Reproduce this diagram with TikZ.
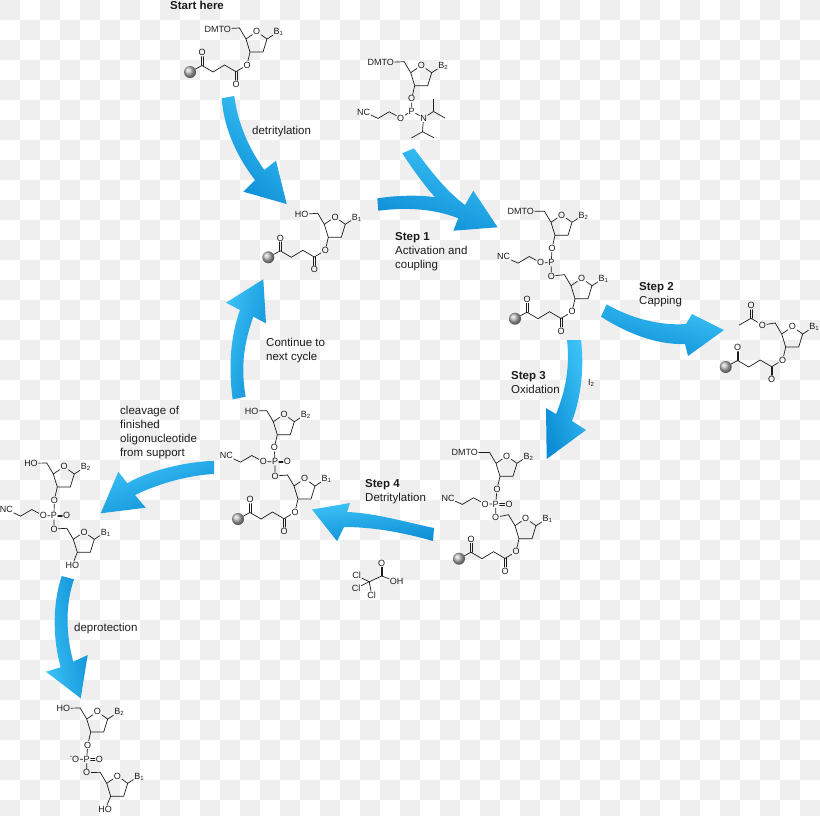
\documentclass[tikz,border=0pt]{standalone}
\usepackage{fontspec}
\setmainfont{Liberation Sans}
\definecolor{ink}{HTML}{1C1C1C}
\definecolor{tile}{HTML}{EFEFEF}
\definecolor{flowlight}{HTML}{3CC2F6}
\definecolor{flowdark}{HTML}{0C8DD5}
\newcommand\atomfont{\fontsize{9}{10}\selectfont}
\newcommand\labelfont{\fontsize{11.5}{14}\selectfont}
% double bonds as two offset strokes: vertical and horizontal
\newcommand\dblv[2]{%
  \draw[bond, transform canvas={xshift=-0.85pt}] (#1)--(#2);
  \draw[bond, transform canvas={xshift=0.85pt}] (#1)--(#2);}
\newcommand\dblh[2]{%
  \draw[bond, transform canvas={yshift=-0.85pt}] (#1)--(#2);
  \draw[bond, transform canvas={yshift=0.85pt}] (#1)--(#2);}
\tikzset{
  x=1pt, y=-1pt,
  atom/.style={inner sep=0.7pt, font=\atomfont, text=ink, text height=6.4pt, text depth=0pt},
  bond/.style={draw=ink, line width=0.7pt, line cap=round},
  caption/.style={font=\labelfont, text=ink, inner sep=0pt, anchor=north west, align=left},
  % deoxyribose ring: origin at C4', args are base number, 3' label, 3' label offset
  pics/sugar/.style n args={3}{code={
    \coordinate (-c4) at (0,0);
    \coordinate (-c1) at (21,0);
    \coordinate (-c2) at (17,13);
    \coordinate (-c3) at (4,13);
    \coordinate (-c5) at (-6.5,-11);
    \node[atom] (-o) at (10.7,-7.3) {O};
    \node[atom] (-b) at (32.5,-7.5) {B\textsubscript{#1}};
    \node[atom] (-o3) at (1+#3,26) {#2};
    \draw[bond] (-c4)--(-o)--(-c1)--(-c2)--(-c3)--(-c4) (-c4)--(-c5) (-c1)--(-b) (-c3)--(-o3);
  }},
  % succinyl linker and solid support: origin at the 3' oxygen
  pics/bead/.style={code={
    \coordinate (-co) at (-11,6.7);
    \node[atom] (-oa) at (-11,19.3) {O};
    \coordinate (-m1) at (-22.5,0);
    \coordinate (-m2) at (-34,7);
    \coordinate (-cb) at (-45,0.5);
    \node[atom] (-ob) at (-45,-12.5) {O};
    \node[circle, minimum size=12pt, inner sep=0pt, ball color=gray!55!white] (-ball) at (-57,7) {};
    \draw[bond] (-co)--(-m1)--(-m2)--(-cb)--(-ball);
    \dblv{-co}{-oa}
    \dblv{-cb}{-ob}
  }},
  % cyanoethyl arm: origin at the ester oxygen
  pics/cyano/.style={code={
    \node[atom] (-o) at (0,0) {O};
    \coordinate (-a) at (-11.5,-6.2);
    \coordinate (-d) at (-22.7,0.4);
    \node[atom] (-nc) at (-37,-6.2) {NC};
    \draw[bond] (-o)--(-a)--(-d)--(-nc);
  }},
}
\begin{document}
\begin{tikzpicture}
\useasboundingbox (0,0) rectangle (820,815);

% tiled backdrop
\begin{scope}
\clip (0,0) rectangle (820,815);
\foreach \i in {0,...,40}{
  \foreach \j in {0,...,40}{
    \pgfmathtruncatemacro\tilepar{mod(\i+\j,2)}
    \ifnum\tilepar=0
      \fill[tile] (20*\i,20*\j) rectangle (20*\i+20,20*\j+20);
    \fi
  }
}
\end{scope}

% reaction flow arrows
\shade[left color=flowlight, right color=flowdark, shading angle=-40]
  (221.7,98.3) .. controls (224,130) and (238,158) .. (255,180)
  -- (243.3,191.7) -- (286.7,204) -- (276,160.7) -- (264.3,170)
  .. controls (250,150) and (238,125) .. (234.3,96) -- cycle;
\shade[left color=flowlight, right color=flowdark, shading angle=-20]
  (377.3,198.3) .. controls (400,195) and (420,195) .. (435,197.3)
  .. controls (420,180) and (410,165) .. (402.3,153.3)
  -- (414,148.3) .. controls (430,170) and (445,190) .. (465,205)
  -- (473.3,190.7) -- (497.7,227.3) -- (453.3,230.7) -- (458.3,218.3)
  .. controls (430,207) and (400,208) .. (378.3,210.7) -- cycle;
\shade[left color=flowlight, right color=flowdark, shading angle=-15]
  (606.7,304.3) .. controls (630,318) and (660,326) .. (686,324)
  -- (692,314) -- (724,330) -- (688,356) -- (685,344)
  .. controls (655,345) and (625,332) .. (601,316.7) -- cycle;
\shade[left color=flowlight, right color=flowdark, shading angle=-70]
  (567,340) .. controls (570,365) and (566,390) .. (556,414)
  -- (546,408) -- (546.7,459) -- (586,430) -- (572,421)
  .. controls (582,395) and (584,365) .. (581,340) -- cycle;
\shade[left color=flowdark, right color=flowlight, shading angle=185]
  (434,528) .. controls (405,522) and (375,513) .. (347,512)
  -- (350,503) -- (312,509.5) -- (337,541) -- (344,527)
  .. controls (375,527) and (405,533) .. (433,541) -- cycle;
\shade[left color=flowlight, right color=flowdark, shading angle=75]
  (232.7,399.3) .. controls (228,365) and (231,335) .. (240,310)
  -- (226,302.7) -- (263.3,279.3) -- (266,323.3) -- (253.3,316.7)
  .. controls (245,340) and (240,365) .. (245.7,396.7) -- cycle;
\shade[left color=flowdark, right color=flowlight, shading angle=200]
  (214,460.7) .. controls (185,462) and (150,470) .. (127.3,483.3)
  -- (118.3,471.7) -- (100.7,513.3) -- (145.7,507.7) -- (135,495)
  .. controls (160,483) and (190,475) .. (214,474) -- cycle;
\shade[left color=flowdark, right color=flowlight, shading angle=-80]
  (61.7,576) .. controls (52,605) and (53,640) .. (60.7,667.3)
  -- (46,671.7) -- (80.7,698.3) -- (87.7,655) -- (73.3,661.7)
  .. controls (66,635) and (65,605) .. (74,579.3) -- cycle;

% starting nucleoside on support
\pic (A) at (246,39) {sugar={1}{O}{0}};
\node[atom] (Acap) at (217.7,29) {DMTO};
\draw[bond] (Acap)--(A-c5);
\pic (Ab) at (A-o3) {bead};
\draw[bond] (A-o3)--(Ab-co);

% phosphoramidite monomer
\pic (B) at (410.7,72.7) {sugar={2}{O}{0}};
\node[atom] (Bcap) at (380.7,62.7) {DMTO};
\draw[bond] (Bcap)--(B-c5);
\node[atom] (Bp) at (411.7,111) {P};
\pic (Bc) at (400.7,118) {cyano};
\node[atom] (Bn) at (423.5,118) {N};
\coordinate (Bi1) at (433.5,111.5);
\coordinate (Bi1a) at (433.5,99.3);
\coordinate (Bi1b) at (445,118);
\coordinate (Bi2) at (422.5,131.7);
\coordinate (Bi2a) at (411.7,137.8);
\coordinate (Bi2b) at (434,137.8);
\draw[bond] (B-o3)--(Bp)--(Bc-o) (Bp)--(Bn)--(Bi1)--(Bi1a) (Bi1)--(Bi1b)
  (Bn)--(Bi2)--(Bi2a) (Bi2)--(Bi2b);

% detritylated nucleoside
\pic (I) at (324.3,224.3) {sugar={1}{O}{0}};
\node[atom] (Icap) at (301.7,214.3) {HO};
\draw[bond] (Icap)--(I-c5);
\pic (Ib) at (I-o3) {bead};
\draw[bond] (I-o3)--(Ib-co);

% phosphite triester
\pic (C) at (551,222.3) {sugar={2}{O}{0}};
\node[atom] (Ccap) at (520.7,211) {DMTO};
\draw[bond] (Ccap)--(C-c5);
\node[atom] (Cp) at (551.3,262.7) {P};
\pic (Cc) at (540.7,262.7) {cyano};
\node[atom] (Cd) at (551.3,276) {O};
\pic (C2) at (571,285.7) {sugar={1}{O}{0}};
\pic (Cb) at (C2-o3) {bead};
\draw[bond] (C-o3)--(Cp)--(Cc-o) (Cp)--(Cd)--(C2-c5) (C2-o3)--(Cb-co);

% capped failure sequence
\pic (D) at (781.7,334) {sugar={1}{O}{0}};
\node[atom] (De) at (762.3,325) {O};
\coordinate (Dc) at (751,318.3);
\node[atom] (Do) at (751,305.7) {O};
\coordinate (Dm) at (739.3,325);
\pic (Db) at (D-o3) {bead};
\draw[bond] (D-c5)--(De)--(Dc)--(Dm) (D-o3)--(Db-co);
\dblv{Dc}{Do}

% phosphate triester, tritylated
\pic (E) at (496,463.3) {sugar={2}{O}{0}};
\node[atom] (Ecap) at (464.7,452.3) {DMTO};
\draw[bond] (Ecap)--(E-c5);
\node[atom] (Ep) at (495.7,504) {P};
\pic (Ec) at (485,504) {cyano};
\node[atom] (Eo) at (509,504) {O};
\node[atom] (Ed) at (495.7,517.3) {O};
\pic (E2) at (515,525.7) {sugar={1}{O}{0}};
\pic (Eb) at (E2-o3) {bead};
\draw[bond] (E-o3)--(Ep)--(Ec-o) (Ep)--(Ed)--(E2-c5) (E2-o3)--(Eb-co);
\dblh{Ep}{Eo}

% phosphate triester, free 5' hydroxyl
\pic (F) at (273.3,421.7) {sugar={2}{O}{0}};
\node[atom] (Fcap) at (251.7,411) {HO};
\draw[bond] (Fcap)--(F-c5);
\node[atom] (Fp) at (275,461.7) {P};
\pic (Fc) at (263.3,461.7) {cyano};
\node[atom] (Fo) at (287.3,461.7) {O};
\node[atom] (Fd) at (275,476) {O};
\pic (F2) at (294,486) {sugar={1}{O}{0}};
\pic (Fb) at (F2-o3) {bead};
\draw[bond] (F-o3)--(Fp)--(Fc-o) (Fp)--(Fd)--(F2-c5) (F2-o3)--(Fb-co);
\dblh{Fp}{Fo}

% cleaved dinucleotide, still protected
\pic (G) at (53.3,474) {sugar={2}{O}{0}};
\node[atom] (Gcap) at (31,463.3) {HO};
\draw[bond] (Gcap)--(G-c5);
\node[atom] (Gp) at (54,515.7) {P};
\pic (Gc) at (43.3,515.7) {cyano};
\node[atom] (Go) at (66.7,515.7) {O};
\node[atom] (Gd) at (54,529) {O};
\pic (G2) at (73.3,539.3) {sugar={1}{HO}{-2}};
\draw[bond] (G-o3)--(Gp)--(Gc-o) (Gp)--(Gd)--(G2-c5);
\dblh{Gp}{Go}

% deprotected dinucleotide
\pic (H) at (86.7,719) {sugar={2}{O}{0}};
\node[atom] (Hcap) at (63.3,708.3) {HO};
\draw[bond] (Hcap)--(H-c5);
\node[atom] (Hp) at (86.7,759.3) {P};
\node[atom] (Hm) at (75.7,759.3) {O};
\node[atom, font=\fontsize{7}{8}\selectfont] (Hq) at (71,755.5) {-};
\node[atom] (Ho) at (99.3,759.3) {O};
\node[atom] (Hd) at (86.7,772.7) {O};
\pic (H2) at (106.7,783.3) {sugar={1}{HO}{-2.5}};
\draw[bond] (H-o3)--(Hp)--(Hm) (Hp)--(Hd)--(H2-c5);
\dblh{Hp}{Ho}

% trichloroacetic acid
\coordinate (Jc) at (381.7,576);
\node[atom] (Jo) at (381.7,563) {O};
\node[atom] (Joh) at (396.7,581.7) {OH};
\coordinate (Jt) at (369.3,581.7);
\node[atom] (Jl1) at (356.7,575.7) {Cl};
\node[atom] (Jl2) at (356,588.3) {Cl};
\node[atom] (Jl3) at (371.7,595) {Cl};
\draw[bond] (Jc)--(Joh) (Jc)--(Jt)--(Jl1) (Jt)--(Jl2) (Jt)--(Jl3);
\dblv{Jc}{Jo}

% captions
\node[caption] (t0) at (170,1) {\textbf{Start here}};
\node[caption] (t1) at (252,126) {detritylation};
\node[caption] (t2) at (395,232) {\textbf{Step 1}\\Activation and\\coupling};
\node[caption] (t3) at (639,282) {\textbf{Step 2}\\Capping};
\node[caption] (t4) at (511,371) {\textbf{Step 3}\\Oxidation};
\node[caption] (t5) at (588,379) {\fontsize{9}{10}\selectfont I\textsubscript{2}};
\node[caption] (t6) at (365,479) {\textbf{Step 4}\\Detritylation};
\node[caption] (t7) at (266,338) {Continue to\\next cycle};
\node[caption] (t8) at (120,406) {cleavage of\\finished\\oligonucleotide\\from support};
\node[caption] (t9) at (74,623) {deprotection};
\end{tikzpicture}
\end{document}
